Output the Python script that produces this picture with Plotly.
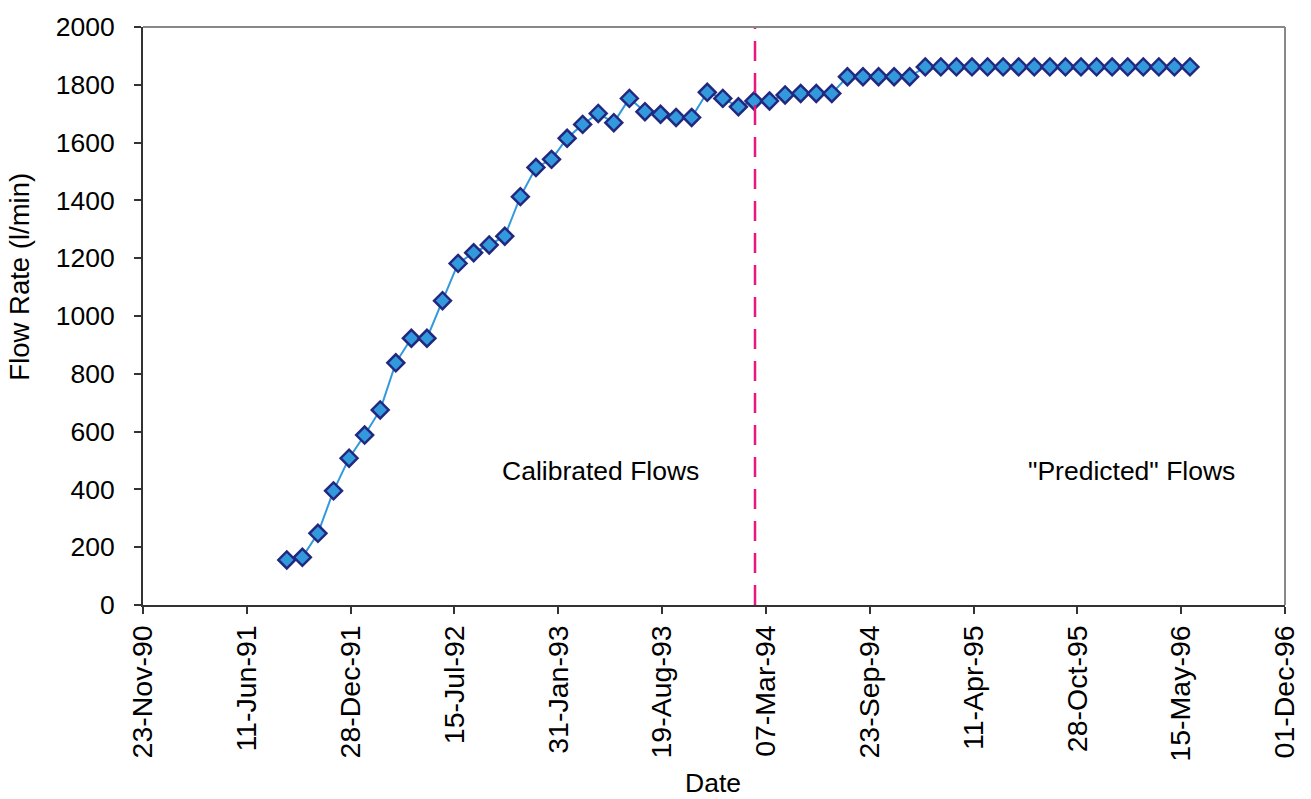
import plotly.graph_objects as go

dates = [
    "1991-08-27", "1991-09-26", "1991-10-26", "1991-11-25", "1991-12-25",
    "1992-01-24", "1992-02-23", "1992-03-24", "1992-04-23", "1992-05-23",
    "1992-06-22", "1992-07-22", "1992-08-21", "1992-09-20", "1992-10-20",
    "1992-11-19", "1992-12-19", "1993-01-18", "1993-02-17", "1993-03-19",
    "1993-04-18", "1993-05-18", "1993-06-17", "1993-07-17", "1993-08-16",
    "1993-09-15", "1993-10-15", "1993-11-14", "1993-12-14", "1994-01-13",
    "1994-02-12", "1994-03-14", "1994-04-13", "1994-05-13", "1994-06-12",
    "1994-07-12", "1994-08-11", "1994-09-10", "1994-10-10", "1994-11-09",
    "1994-12-09", "1995-01-08", "1995-02-07", "1995-03-09", "1995-04-08",
    "1995-05-08", "1995-06-07", "1995-07-07", "1995-08-06", "1995-09-05",
    "1995-10-05", "1995-11-04", "1995-12-04", "1996-01-03", "1996-02-02",
    "1996-03-03", "1996-04-02", "1996-05-02", "1996-06-01",
]

flow = [
    156, 165, 248, 395, 508, 588, 675, 838, 923, 923,
    1053, 1182, 1219, 1246, 1276, 1413, 1514, 1542, 1615, 1663,
    1701, 1669, 1753, 1707, 1698, 1687, 1687, 1774, 1753, 1724,
    1744, 1744, 1765, 1770, 1770, 1770, 1828, 1828, 1828, 1828,
    1828, 1862, 1862, 1862, 1862, 1862, 1862, 1862, 1862, 1862,
    1862, 1862, 1862, 1862, 1862, 1862, 1862, 1862, 1862,
]

x_ticks = [
    "1990-11-23", "1991-06-11", "1991-12-28", "1992-07-15", "1993-01-31",
    "1993-08-19", "1994-03-07", "1994-09-23", "1995-04-11", "1995-10-28",
    "1996-05-15", "1996-12-01",
]
x_tick_text = [
    "23-Nov-90", "11-Jun-91", "28-Dec-91", "15-Jul-92", "31-Jan-93",
    "19-Aug-93", "07-Mar-94", "23-Sep-94", "11-Apr-95", "28-Oct-95",
    "15-May-96", "01-Dec-96",
]
divider_date = "1994-02-14"

FONT = "Liberation Sans, Arial, sans-serif"
FS = 26.5

fig = go.Figure()
fig.add_trace(go.Scatter(
    x=dates, y=flow, mode="lines+markers",
    line=dict(color="#3399DD", width=2),
    marker=dict(symbol="diamond", size=13, color="#3399DD",
                line=dict(color="#22287F", width=2.5)),
    showlegend=False,
))

fig.add_shape(type="line", xref="x", yref="paper", x0=divider_date, x1=divider_date,
              y0=0, y1=1, line=dict(color="#E6187E", width=2.5, dash="20px,12px"))
fig.add_shape(type="line", xref="paper", yref="paper", x0=0, x1=1, y0=1, y1=1,
              line=dict(color="#888888", width=2))
fig.add_shape(type="line", xref="paper", yref="paper", x0=1, x1=1, y0=0, y1=1,
              line=dict(color="#888888", width=2))

ann_font = dict(family=FONT, size=FS, color="black")
fig.add_annotation(text="Calibrated Flows", xref="paper", yref="paper",
                   x=0.401, y=0.232, xanchor="center", yanchor="middle",
                   showarrow=False, font=ann_font)
fig.add_annotation(text="\"Predicted\" Flows", xref="paper", yref="paper",
                   x=0.866, y=0.232, xanchor="center", yanchor="middle",
                   showarrow=False, font=ann_font)
fig.add_annotation(text="Flow Rate (l/min)", xref="paper", yref="paper",
                   x=-0.108, y=0.5675, xanchor="center", yanchor="middle",
                   textangle=-90, showarrow=False,
                   font=dict(family=FONT, size=27.5, color="black"))
fig.add_annotation(text="Date", xref="paper", yref="paper",
                   x=0.499, y=-0.308, xanchor="center", yanchor="middle",
                   showarrow=False, font=ann_font)

fig.update_layout(
    width=1311, height=799,
    margin=dict(l=143, r=26, t=27, b=194),
    paper_bgcolor="white", plot_bgcolor="white",
    font=dict(family=FONT, size=FS, color="black"),
    xaxis=dict(
        type="date", range=["1990-11-23", "1996-12-01"],
        tickmode="array", tickvals=x_ticks, ticktext=x_tick_text,
        tickfont=dict(size=28.5),
        tickangle=-90, ticks="outside", ticklen=7, tickwidth=1.5, tickcolor="#333",
        showline=True, linecolor="#333333", linewidth=2, showgrid=False, zeroline=False,
    ),
    yaxis=dict(
        range=[0, 2000], tickmode="linear", tick0=0, dtick=200,
        ticks="outside", ticklen=7, tickwidth=1.5, tickcolor="#333",
        showline=True, linecolor="#333333", linewidth=2, showgrid=False, zeroline=False,
        ticklabelstandoff=14,
    ),
)

fig.write_html("out.html")
